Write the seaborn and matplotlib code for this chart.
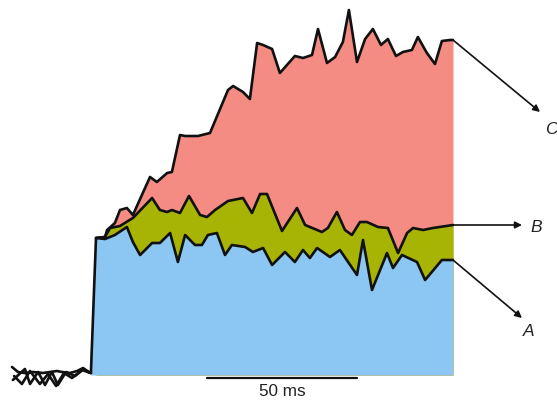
import matplotlib
matplotlib.use("Agg")
import matplotlib.pyplot as plt
import seaborn as sns
import numpy as np

# ---- data (time in ms from onset, response in arbitrary units) ----
noise_t1 = [-27, -25, -22.7, -20, -16.7, -14.3, -12, -10.3, -7.7, -5.3, -3.3, -1.7, -0.7]
noise_y1 = [8, 3, 2, 3, 2, 3, 4, 3, 2, 4, 7, 3, 2]
noise_t2 = [-26.7, -22.7, -21, -18.3, -16, -13.7, -11.7, -9, -6, -3, -0.7]
noise_y2 = [-5, 6, -9, 3, -10, 3, -10, 3, -1, 6, 2]
noise_t3 = [-26.3, -23.7, -21, -17.7, -15, -12.3, -9.7, -7, -3.7, -0.7]
noise_y3 = [-1, -9, 4, -9, 1, -11, 2, -3, 5, 2]

time_A = [-0.7, 1.0, 4.0, 7.3, 11.3, 13.3, 15.7, 19.7, 22.3, 25.7, 28.3, 30.7, 34.0, 36.3,
          38.3, 41.3, 44.0, 46.3, 50.7, 53.3, 56.7, 59.7, 64.0, 67.3, 70.0, 72.3, 74.7,
          79.0, 82.3, 88.0, 90.0, 93.0, 98.0, 100.0, 103.0, 108.0, 110.7, 116.3, 120.0]
resp_A = [2, 137, 136, 140, 148, 133, 120, 132, 132, 142, 113, 140, 130, 130,
          140, 142, 120, 130, 128, 123, 127, 110, 123, 113, 125, 117, 127,
          118, 125, 100, 135, 85, 122, 107, 120, 113, 95, 115, 115]

time_B = [1.0, 4.0, 5.7, 9.0, 13.3, 19.7, 22.3, 24.7, 26.3, 29.0, 32.0, 35.7, 38.0, 40.7,
          45.0, 50.0, 53.0, 55.7, 58.0, 63.0, 68.0, 70.7, 72.3, 76.3, 78.3, 81.3, 84.0,
          86.3, 89.0, 91.3, 95.0, 98.3, 101.7, 104.7, 106.7, 110.0, 113.3, 120.0]
resp_B = [137, 138, 147, 149, 157, 177, 165, 163, 165, 162, 179, 160, 158, 165,
          174, 177, 162, 181, 181, 144, 167, 150, 148, 143, 147, 163, 145,
          140, 153, 153, 148, 147, 122, 142, 147, 145, 147, 150]

time_C = [1.0, 4.0, 4.7, 7.3, 9.0, 11.3, 13.3, 19.0, 21.3, 24.7, 26.3, 29.0, 30.7, 35.0,
          39.0, 45.0, 46.7, 50.0, 52.3, 54.7, 56.7, 59.7, 62.3, 67.3, 70.0, 73.0, 75.0,
          78.0, 80.7, 83.3, 85.3, 88.0, 90.7, 93.3, 96.0, 98.3, 101.0, 103.3, 106.3,
          108.3, 111.3, 114.0, 116.3, 119.0, 120.0]
resp_C = [137, 138, 145, 152, 165, 167, 160, 198, 193, 202, 203, 240, 239, 239,
          242, 285, 289, 283, 276, 332, 330, 326, 302, 319, 317, 320, 346,
          312, 318, 333, 365, 313, 336, 346, 330, 336, 319, 323, 325,
          338, 322, 311, 334, 335, 335]

labels = ["A", "B", "C"]
label_pos_t = [143.3, 145.7, 150.6]
label_pos_y = [44, 148, 246]
arrow_tip_t = [143, 143, 149]
arrow_tip_y = [57, 150, 263]

scale_start = 38
scale_len = 50
scale_label = "50 ms"

# ---- drawing ----
sns.set_theme(style="white")
plt.rcParams['font.family'] = ['Liberation Sans', 'DejaVu Sans']

fig = plt.figure(figsize=(5.57, 4.01), dpi=100)
ax = fig.add_axes([0, 0, 1, 1])
ax.set_xlim(-31, 154.67)
ax.set_ylim(-26, 375)
ax.axis("off")

col_A = "#8CC6F2"
col_B = "#A8B404"
col_C = "#F48C84"

ax.fill_between(time_C, 0, resp_C, color=col_C, lw=0, zorder=1)
ax.fill_between(time_B, 0, resp_B, color=col_B, lw=0, zorder=2)
ax.fill_between(time_A, 0, resp_A, color=col_A, lw=0, zorder=3)

lw = 1.9
for t, y in [(noise_t1, noise_y1), (noise_t2, noise_y2), (noise_t3, noise_y3),
             (time_C, resp_C), (time_B, resp_B), (time_A, resp_A)]:
    sns.lineplot(x=t, y=y, ax=ax, color="#111111", lw=lw, sort=False,
                 estimator=None, zorder=5)

ends = [(time_A[-1], resp_A[-1]), (time_B[-1], resp_B[-1]), (time_C[-1], resp_C[-1])]
for (t0, y0), tt, ty, lab, lt, ly in zip(ends, arrow_tip_t, arrow_tip_y, labels,
                                         label_pos_t, label_pos_y):
    ax.annotate("", xy=(tt, ty), xytext=(t0, y0),
                arrowprops=dict(arrowstyle="-|>", color="#111111", lw=1.2,
                                mutation_scale=10, shrinkA=0, shrinkB=0), zorder=6)
    ax.text(lt, ly, lab, fontsize=12.5, fontstyle="italic", color="#222222",
            ha="left", va="center")

ax.plot([scale_start, scale_start + scale_len], [-2.5, -2.5], color="#111111", lw=1.6)
ax.text(scale_start + scale_len / 2, -17, scale_label, fontsize=12.3,
        ha="center", va="center", color="#222222")

fig.savefig("out.png", dpi=100)
